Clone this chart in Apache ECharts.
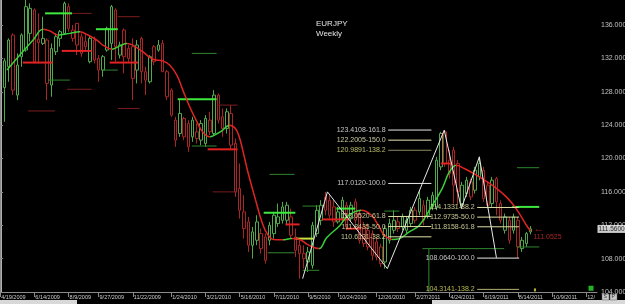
<!DOCTYPE html>
<html><head><meta charset="utf-8">
<script src="https://cdn.jsdelivr.net/npm/echarts@6/dist/echarts.min.js"></script>
<style>html,body{margin:0;padding:0;background:#000;overflow:hidden}#c{width:625px;height:304px}</style>
</head><body><div id="c"></div>
<script>
// ---- data ----
const weekCount = 140;                 // weekly slots, slot 0 = 4/19/2009
const xTickLabels = [[0,'4/19/2009'],[8,'6/14/2009'],[16,'8/9/2009'],[23,'9/27/2009'],[31,'11/22/2009'],[40,'1/24/2010'],[48,'3/21/2010'],[56,'5/16/2010'],[64,'7/11/2010'],[72,'9/5/2010'],[79,'10/24/2010'],[88,'12/26/2010'],[97,'2/27/2011'],[105,'4/24/2011'],[113,'6/19/2011'],[121,'8/14/2011'],[129,'10/9/2011'],[137,'12/']];
const firstCandle = 1;
// [open, close, low, high]
const candles = [
[128.5,131.7,124.4,132.0],[131.0,134.2,129.2,134.4],[134.8,128.2,127.6,135.0],[127.6,131.2,127.0,132.6],[132.2,134.8,131.0,135.0],
[133.0,138.2,132.8,139.0],[135.0,138.0,134.0,138.6],[137.8,131.6,131.4,138.0],[134.3,133.9,131.4,137.4],[133.8,134.4,133.6,137.0],
[134.2,129.0,127.0,134.4],[128.8,133.2,127.4,133.8],[132.8,134.6,132.4,135.0],[134.4,135.2,133.4,135.4],[135.0,138.6,134.8,138.8],
[138.2,135.6,135.2,138.6],[135.4,134.4,134.0,136.0],[136.2,133.6,132.4,136.2],[134.6,132.6,132.2,135.0],[134.0,133.4,133.0,135.0],
[131.6,134.4,131.4,134.8],[134.2,131.8,131.4,134.6],[132.0,130.6,129.2,132.4],[130.6,132.2,129.8,132.4],[133.0,135.6,132.8,135.8],
[133.8,138.2,131.8,138.4],[137.8,133.4,131.6,138.0],[132.4,133.6,132.0,134.0],[135.4,132.2,130.2,135.6],[133.2,132.0,131.6,133.6],
[133.4,129.6,127.0,134.4],[130.6,133.6,129.0,134.2],[134.4,130.4,129.0,134.6],[130.4,129.4,127.6,131.0],[129.2,132.2,129.0,132.4],
[133.4,131.6,131.2,133.6],[133.0,133.6,132.8,134.2],[133.8,130.4,130.4,134.2],[130.4,127.4,127.0,130.6],[128.2,125.2,125.0,128.4],
[124.6,122.2,121.4,125.0],[123.0,125.4,122.6,127.0],[124.8,122.6,122.2,125.0],[124.2,121.4,120.8,124.6],[122.6,124.6,122.0,125.0],
[123.2,122.4,121.8,124.2],[122.2,124.2,121.6,124.6],[121.8,124.8,121.4,125.2],[124.6,123.2,122.8,125.6],[123.0,127.6,122.8,128.2],
[127.6,124.6,124.2,127.8],[125.0,123.6,122.6,126.0],[123.6,125.6,123.0,126.0],[125.4,121.6,121.0,126.4],[121.8,116.0,115.4,122.4],
[116.4,113.8,112.8,119.4],[113.6,111.6,110.4,115.6],[112.4,109.6,108.8,113.0],[109.6,111.2,108.0,111.8],[110.2,112.4,109.6,113.2],
[111.0,109.2,108.6,111.6],[110.6,107.8,107.4,111.0],[110.2,112.0,109.6,112.4],[111.0,113.2,110.4,113.6],[112.2,113.0,111.8,114.6],
[112.6,114.2,112.2,114.8],[112.6,114.4,112.0,114.8],[113.0,110.8,110.4,114.0],[110.6,109.0,108.2,111.6],[109.6,108.6,105.6,110.4],
[108.6,108.0,106.8,109.6],[107.6,108.8,106.4,109.4],[107.2,112.0,106.8,112.4],[111.0,113.8,110.6,114.4],[112.6,114.4,112.0,115.0],
[115.4,113.8,113.2,116.0],[115.0,113.2,112.8,115.6],[114.2,112.4,111.8,115.0],[112.4,113.6,112.2,114.2],[112.8,115.0,112.4,115.4],
[114.4,111.8,111.4,114.8],[112.8,114.4,112.4,114.8],[114.8,112.6,112.2,115.2],[113.4,110.2,109.8,113.8],[111.8,109.8,109.4,112.4],
[111.4,109.4,109.0,112.2],[111.0,108.4,107.8,111.4],[110.0,108.2,107.8,110.6],[109.4,107.4,107.0,109.8],[107.6,111.6,106.8,112.0],
[110.2,112.2,109.8,112.8],[111.4,112.6,111.0,113.8],[112.4,111.6,111.2,113.0],[111.8,113.0,111.4,113.4],[111.4,112.6,111.0,113.0],
[112.2,113.8,111.8,114.2],[113.8,112.6,112.2,114.2],[113.6,115.2,113.2,116.2],[114.4,112.6,112.0,115.0],[113.2,115.0,112.8,115.4],
[114.2,115.6,113.8,116.0],[114.2,119.8,113.8,120.2],[119.0,123.0,118.6,123.2],[123.2,119.4,119.0,123.4],[119.8,118.2,117.6,121.0],
[121.0,116.8,114.6,121.4],[119.4,116.0,114.4,119.8],[114.6,116.8,114.0,117.2],[115.8,117.4,115.4,117.8],[117.2,115.4,115.0,117.6],
[116.2,118.6,115.8,119.0],[117.8,119.4,117.4,120.2],[118.6,115.2,114.8,119.0],[116.8,114.4,114.0,117.2],[114.6,117.4,114.2,117.8],
[117.6,114.8,113.2,117.8],[114.6,112.6,112.2,115.0],[111.4,113.0,111.0,113.4],[112.6,110.2,109.8,113.0],[111.4,113.0,111.0,113.4],
[112.6,109.4,108.06,113.0],[109.2,110.2,108.8,110.6],[109.8,111.0,109.4,111.2],[111.2,111.56,110.9,111.9]
];
// smoothed moving average: [week, value]
const maPoints = [[1.6,130.6],[4.6,132.4],[7.7,134.2],[10,135.5],[11.6,135.3],[13.5,134.8],[16.3,135.0],[18.6,135.2],[20.5,134.8],[22.6,134.2],[24,133.6],[26.1,133.1],[28,133.5],[29.6,133.8],[31,133.6],[33.3,132.8],[35.7,131.9],[38,131.7],[39.6,131.2],[41.3,130.0],[42.7,128.2],[44.3,126.2],[46,124.4],[47.3,123.2],[49,122.6],[50.1,122.8],[51.8,123.3],[53.6,124.0],[55,123.6],[56,122.4],[56.7,121.0],[57.8,118.6],[59.5,115.4],[61.3,112.2],[62.5,110.9],[63.9,110.3],[66,110.25],[68.1,110.4],[70,110.3],[71.8,109.7],[73.5,109.3],[74.6,109.2],[76.3,110.5],[79.3,111.9],[81,113.0],[82.8,113.6],[84.4,113.8],[86.8,113.2],[88.6,111.8],[89.8,110.8],[91.7,110.3],[93.3,110.4],[95.6,111.2],[98,112.0],[101,114.4],[103.3,116.4],[105,118.4],[106.6,119.2],[108.5,118.8],[112,117.8],[115,116.8],[118.3,115.4],[120.6,114.0],[123,112.0],[124,111.3]];
const zigzag = [[70.7,105.6],[76.5,116.0],[90.5,106.8],[103.8,123.4],[107.8,114.0],[112,120.2],[116,108.1]];
// horizontal levels: [fromWeek, toWeek, price]
const levelsThickGreen = [[10.5,16.8,137.4],[22.4,27.5,135.5],[41.5,50.6,127.1],[61.6,69,113.5],[78.6,83,114.0],[119.7,126,114.2]];
const levelsThickYellow = [[69,73.2,110.4]];
const levelsThickRed = [[5.3,12.3,131.5],[14.4,21.4,132.9],[25.6,32.2,131.5],[48.5,55.5,121.1],[66.7,70,112.1],[75.3,81.6,112.7],[81,84.4,111.6],[103,105.7,119.4]];
const levelsThinGreen = [[11.2,16.3,129.4],[24,27.5,130.6],[44.8,50.6,132.6],[44.8,50.6,121.5],[63,68.8,118.1],[62.5,68.8,108.7],[70.7,74.6,114.3],[70.7,74.6,106.6],[89.8,93.3,113.7],[120.8,126,118.9],[120.8,126,109.4],[98.7,117.8,109.2]];
const levelsThinRed = [[6.5,12.8,125.7],[15.6,21.4,128.3],[15.1,21.4,137.4],[27.5,32.6,126.0],[27.5,32.6,137.0],[50.6,55.5,126.4],[49.7,55.3,116.0]];
// vertical marker: [week, fromPrice, toPrice]
const verticalGreen = [[100.2, 109.2, 104.0]];
// fibonacci levels: [fromWeek, toWeek, price, label, lineColor, textColor]
const fibLevels = [
 [90.7,100.8,123.4108,'123.4108-161.8','#e8e8e8','#f0f0f0'],
 [90.7,100.8,122.2005,'122.2005-150.0','#e8e8b8','#f4f4c0'],
 [90.7,100.8,120.9891,'120.9891-138.2','#8c8c60','#e0e080'],
 [90.7,100.8,117.0120,'117.0120-100.0','#e8e8e8','#f0f0f0'],
 [90.7,100.8,113.0520,'113.0520-61.8','#e0e0a8','#f0f0b0'],
 [90.7,100.8,111.8435,'111.8435-50.0','#e0e0a8','#f0f0b0'],
 [90.7,100.8,110.6131,'110.6131-38.2','#e0e0a8','#f0f0b0'],
 [111.5,121.3,114.1331,'114.1331-38.2','#e0e0a8','#f0f0b0'],
 [111.5,121.3,112.9735,'112.9735-50.0','#e0e0a8','#f0f0b0'],
 [111.5,121.3,111.8158,'111.8158-61.8','#e0e0a8','#f0f0b0'],
 [111.5,121.3,108.0640,'108.0640-100.0','#e8e8e8','#f0f0f0'],
 [111.5,121.3,104.3141,'104.3141-138.2','#b0b070','#e0e060']
];
const lastPrice = 111.56;
const markedPrice = 111.0525;

// ---- chart ----
const FONT = 'Liberation Sans';
const tickMap = new Map(xTickLabels);
const cats = Array.from({length: weekCount}, (_, i) => String(i));
const candleRows = candles.map((r, k) => [firstCandle + k, r[0], r[1], r[2], r[3]]);

const series = [];
series.push({
  type: 'candlestick', xAxisIndex: 0, yAxisIndex: 0, data: candleRows,
  encode: {x: 0, y: [1, 2, 3, 4]}, barWidth: 3,
  itemStyle: {color: '#000', color0: '#000', borderColor: '#52a84c', borderColor0: '#a82626', borderWidth: 1},
  z: 3
});
// MA
const maIndex = series.length;
series.push({type: 'line', xAxisIndex: 1, data: maPoints, smooth: 0.4, symbol: 'none',
  lineStyle: {width: 1.5}, z: 6});

function addLevels(list, color, width, z) {
  list.forEach(s => series.push({type: 'line', xAxisIndex: 1, data: [[s[0], s[2]], [s[1], s[2]]],
    symbol: 'none', lineStyle: {color: color, width: width}, silent: true, z: z}));
}
addLevels(levelsThinGreen, '#2e862e', 1, 4);
addLevels(levelsThinRed, '#7a1e1e', 1, 4);
addLevels(levelsThickGreen, '#3ee83e', 2, 5);
addLevels(levelsThickYellow, '#c8e040', 2, 5);
addLevels(levelsThickRed, '#e22222', 2, 5);
verticalGreen.forEach(v => series.push({type: 'line', xAxisIndex: 1, data: [[v[0], v[1]], [v[0], v[2]]],
  symbol: 'none', lineStyle: {color: '#2e8a2e', width: 1}, silent: true, z: 4}));

fibLevels.forEach(f => series.push({type: 'line', xAxisIndex: 1, data: [[f[0], f[2]], [f[1], f[2]]],
  symbol: 'none', lineStyle: {color: f[4], width: 1}, silent: true, z: 7}));
series.push({type: 'scatter', xAxisIndex: 1, symbolSize: 1, itemStyle: {color: 'rgba(0,0,0,0)'}, z: 8, silent: true,
  data: fibLevels.map(f => ({value: [f[0], f[2]], label: {show: true, position: 'left', distance: 2,
    formatter: f[3], color: f[5], fontSize: 7, fontFamily: FONT}}))});

series.push({type: 'line', xAxisIndex: 1, data: zigzag, symbol: 'none',
  lineStyle: {color: '#e8e8e8', width: 1}, z: 7, silent: true});

// price marks
series.push({type: 'scatter', xAxisIndex: 1, symbolSize: 1, itemStyle: {color: 'rgba(0,0,0,0)'}, z: 9, silent: true,
  clip: false,
  data: [
    {value: [124.3, lastPrice], label: {show: true, position: 'right', distance: 1, formatter: '\u2190', color: '#c02222', fontSize: 11, fontFamily: FONT}},
    {value: [124.3, 110.55], label: {show: true, position: 'right', distance: 1, formatter: markedPrice.toFixed(4), color: '#d03030', fontSize: 7, fontFamily: FONT}},
    {value: [weekCount - 0.5, lastPrice], label: {show: true, position: 'right', distance: 0, formatter: lastPrice.toFixed(4),
      backgroundColor: '#ffffff', color: '#000', fontSize: 6.5, fontFamily: FONT, padding: [1, 1, 0, 1]}}
  ]});
series.push({type: 'scatter', xAxisIndex: 1, symbol: 'rect', symbolSize: [2, 3], itemStyle: {color: '#e0e040'}, data: [[125, 104.25]], z: 9, silent: true});
series.push({type: 'scatter', xAxisIndex: 1, symbol: 'rect', symbolSize: [5, 5], itemStyle: {color: '#30e030'}, data: [[138.1, 104.45]], z: 9, silent: true});

// MA colouring: green where rising, red where falling
const pieces = [];
for (let j = 0; j < maPoints.length - 1; j++) {
  const up = maPoints[j + 1][1] >= maPoints[j][1];
  const col = up ? '#3ad03a' : '#e02424';
  const last = pieces[pieces.length - 1];
  if (last && last.color === col) last.lt = maPoints[j + 1][0];
  else pieces.push({gte: maPoints[j][0], lt: maPoints[j + 1][0], color: col});
}
pieces[0].gte = -10; pieces[pieces.length - 1].lt = 1000;

const chart = echarts.init(document.getElementById('c'), null, {renderer: 'canvas'});
chart.setOption({
  backgroundColor: '#000',
  animation: false,
  title: {text: 'EURJPY\nWeekly', left: 316, top: 19, padding: 0,
    textStyle: {color: '#e4e4e4', fontSize: 8, fontWeight: 'normal', fontFamily: FONT, lineHeight: 10}},
  grid: {left: -2, right: 28, top: 0, bottom: 12, containLabel: false, outerBoundsMode: 'none'},
  xAxis: [
    {type: 'category', data: cats, boundaryGap: true,
      axisLine: {show: true, lineStyle: {color: '#8a8a8a', width: 1}},
      axisTick: {show: true, alignWithLabel: true, length: 5, interval: (i) => tickMap.has(i), lineStyle: {color: '#8a8a8a'}},
      axisLabel: {show: true, interval: (i) => tickMap.has(i), formatter: (v) => tickMap.get(Number(v)) || '',
        color: '#cccccc', fontSize: 5.5, fontFamily: FONT, align: 'left', margin: 2, padding: [0, 0, 0, 1],
        hideOverlap: false},
      splitLine: {show: false}},
    {type: 'value', min: -0.5, max: weekCount - 0.5, show: false}
  ],
  yAxis: {type: 'value', position: 'right', min: 104, max: 139, interval: 4,
    axisLine: {show: true, lineStyle: {color: '#8a8a8a'}},
    axisTick: {show: true, length: 3, lineStyle: {color: '#8a8a8a'}},
    axisLabel: {color: '#c0c0c0', fontSize: 7, fontFamily: FONT, margin: 4, showMaxLabel: false,
      formatter: (v) => (v > 138 ? '' : v.toFixed(4))},
    splitLine: {show: false}},
  visualMap: {show: false, type: 'piecewise', dimension: 0, seriesIndex: maIndex, pieces: pieces},
  graphic: [
    {type: 'line', shape: {x1: 1.5, y1: 0, x2: 1.5, y2: 292}, style: {stroke: '#b0b0b0', lineWidth: 1}, silent: true},
    {type: 'rect', shape: {x: 0, y: 300, width: 77, height: 4}, style: {fill: '#d8d8d8'}, silent: true},
    {type: 'rect', shape: {x: 432, y: 300, width: 193, height: 4}, style: {fill: '#d8d8d8'}, silent: true},
    {type: 'rect', shape: {x: 602, y: 294, width: 7, height: 6}, style: {fill: '#c8c8c8', stroke: '#666', lineWidth: 0.5}, silent: true},
    {type: 'rect', shape: {x: 610, y: 294, width: 7, height: 6}, style: {fill: '#c8c8c8', stroke: '#666', lineWidth: 0.5}, silent: true},
    {type: 'text', x: 603.5, y: 294.5, style: {text: 'S', fill: '#333', fontSize: 5, fontFamily: FONT}, silent: true},
    {type: 'text', x: 611.5, y: 294.5, style: {text: 'P', fill: '#333', fontSize: 5, fontFamily: FONT}, silent: true}
  ],
  series: series
});
</script></body></html>
